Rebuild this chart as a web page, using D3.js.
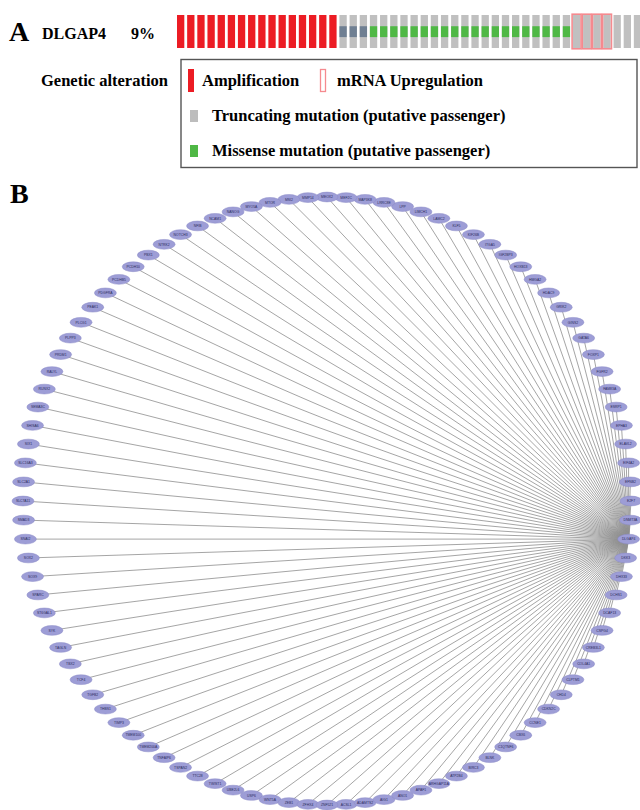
<!DOCTYPE html>
<html>
<head>
<meta charset="utf-8">
<script src="https://cdn.jsdelivr.net/npm/d3@7"></script>
<style>
  html, body { margin: 0; padding: 0; background: #fff; }
  svg { display: block; }
</style>
</head>
<body>
<svg id="fig" width="640" height="810"></svg>
<script>
// ---- Panel A: oncoprint row for DLGAP4 ----
const geneName = "DLGAP4";
const alteredPct = "9%";
// one entry per sample column, in display order
const sampleAlterations = [
  "amp","amp","amp","amp","amp","amp","amp","amp","amp","amp","amp","amp","amp","amp","amp","amp",
  "trunc","trunc","trunc",
  "missense","missense","missense","missense","missense","missense","missense","missense","missense","missense",
  "missense","missense","missense","missense","missense","missense","missense","missense","missense","missense",
  "mrna","mrna","mrna","mrna",
  "none","none","none"
];
const legendItems = [
  { key: "amp", label: "Amplification" },
  { key: "mrna", label: "mRNA Upregulation" },
  { key: "trunc", label: "Truncating mutation (putative passenger)" },
  { key: "missense", label: "Missense mutation (putative passenger)" }
];

// ---- Panel B: co-expression network around the hub gene ----
const hubGene = "DLGAP4";
const networkGenes = [
  "ACSL1","ADAMTS2","AIG1","ANO1","APAF1","ARHGAP11A","ATP2B4","BIRC3","BLNK","C1QTNF6",
  "CBX6","CCNE1","CDKN2C","CHD4","CLPTM1","COL4A1","CREB3L1","CSPG4","DCAF13","DCHS1",
  "DHX33","DKK3","DLGAP4","DNMT3A","E2F7","EFNB2","EIF4A2","ELAVL2","EPHA3","ESRP1",
  "FAM83A","FGFR2","FOXP1","GATA6","GINS2","GRIK2","HDAC9","HMGA2","HOXB13","IGF2BP3",
  "ITGA5","KIF26B","KLF5","LAMC2","LIMCH1","LPP","LRRC8E","MAP3K8","MEF2C","MEOX2",
  "MMP14","MSI2","MTOR","MYO5A","NANOG","NCAM1","NFIB","NOTCH3","NTRK2","PBX1",
  "PCDH10","PCDHB5","PDGFRA","PEAK1","PLCG1","PLPP3","PRDM1","RALYL","RUNX2","SEMA3C",
  "SHISA6","SIX1","SLC16A3","SLC2A1","SLC7A11","SMAD3","SNAI2","SOX2","SOX9","SPARC",
  "ST6GAL1","SYK","TAGLN","TBX2","TCF4","TGFB2","THBS1","TIMP3","TMEM100","TMEM200A",
  "TNFAIP6","TSPAN2","TTC28","TWIST1","UBE2L6","USP6","WNT5A","ZEB1","ZFHX4","ZNF521"
];

const svg = d3.select("#fig");
svg.append("rect").attr("width", 640).attr("height", 810).attr("fill", "#fff");

const serif = "'Liberation Serif', 'Times New Roman', serif";
const colors = {
  amp: "#ec1c24",
  none: "#c0c0c0",
  missense: "#4fb845",
  trunc: "#6f7f92",
  mrnaStroke: "#f58a8f",
  legendTrunc: "#bdbdbd"
};

// panel letters
svg.append("text").attr("x", 9).attr("y", 41)
  .attr("font-family", serif).attr("font-weight", "bold").attr("font-size", 28)
  .text("A");
svg.append("text").attr("x", 10).attr("y", 203)
  .attr("font-family", serif).attr("font-weight", "bold").attr("font-size", 28)
  .text("B");

// oncoprint track
const gA = svg.append("g");
gA.append("text").attr("x", 42).attr("y", 39)
  .attr("font-family", serif).attr("font-weight", "bold").attr("font-size", 16)
  .text(geneName);
gA.append("text").attr("x", 131).attr("y", 39)
  .attr("font-family", serif).attr("font-weight", "bold").attr("font-size", 16)
  .text(alteredPct);

const samples = sampleAlterations.map((type, i) => ({ type, i }));
const xBand = d3.scaleBand()
  .domain(d3.range(samples.length))
  .range([177, 177 + samples.length * 10.09])
  .paddingInner(0.28).paddingOuter(0);
const yTrack = d3.scaleLinear().domain([0, 1]).range([48, 15]);

const cols = gA.selectAll("g.sample").data(samples).join("g").attr("class", "sample");
// base column
cols.append("rect")
  .attr("x", d => xBand(d.i)).attr("width", xBand.bandwidth())
  .attr("y", yTrack(1)).attr("height", yTrack(0) - yTrack(1))
  .attr("fill", d => d.type === "amp" ? colors.amp : colors.none);
// mutation glyph: a shorter centred bar
cols.filter(d => d.type === "missense" || d.type === "trunc").append("rect")
  .attr("x", d => xBand(d.i)).attr("width", xBand.bandwidth())
  .attr("y", yTrack(0.66)).attr("height", yTrack(0.33) - yTrack(0.66))
  .attr("fill", d => colors[d.type]);
// mRNA upregulation: outlined column
cols.filter(d => d.type === "mrna").append("rect")
  .attr("x", d => xBand(d.i) - 0.8)
  .attr("width", xBand.bandwidth() + 1.6)
  .attr("y", yTrack(1) - 0.8).attr("height", yTrack(0) - yTrack(1) + 1.6)
  .attr("fill", "none").attr("stroke", colors.mrnaStroke).attr("stroke-width", 1.6);

// legend
const gL = svg.append("g");
gL.append("rect").attr("x", 181).attr("y", 59.5).attr("width", 456).attr("height", 108)
  .attr("fill", "none").attr("stroke", "#555").attr("stroke-width", 1.4);
gL.append("text").attr("x", 41).attr("y", 86)
  .attr("font-family", serif).attr("font-weight", "bold").attr("font-size", 16.5)
  .text("Genetic alteration");

const legendPos = [
  { x: 188, y: 86 }, { x: 320, y: 86 }, { x: 190, y: 121 }, { x: 190, y: 156 }
];
legendItems.forEach((item, i) => {
  const p = legendPos[i];
  if (item.key === "amp") {
    gL.append("rect").attr("x", p.x).attr("y", p.y - 17).attr("width", 6).attr("height", 23).attr("fill", colors.amp);
    gL.append("text").attr("x", p.x + 14).attr("y", p.y)
      .attr("font-family", serif).attr("font-weight", "bold").attr("font-size", 16.5).text(item.label);
  } else if (item.key === "mrna") {
    gL.append("rect").attr("x", p.x + 0.5).attr("y", p.y - 16.5).attr("width", 5).attr("height", 22)
      .attr("fill", "none").attr("stroke", colors.mrnaStroke).attr("stroke-width", 1.3);
    gL.append("text").attr("x", p.x + 17).attr("y", p.y)
      .attr("font-family", serif).attr("font-weight", "bold").attr("font-size", 16.5).text(item.label);
  } else {
    gL.append("rect").attr("x", p.x).attr("y", p.y - 11).attr("width", 8).attr("height", 12)
      .attr("fill", item.key === "trunc" ? colors.legendTrunc : colors.missense);
    gL.append("text").attr("x", p.x + 22).attr("y", p.y)
      .attr("font-family", serif).attr("font-weight", "bold").attr("font-size", 16.5).text(item.label);
  }
});

// ---- network in circular layout ----
const cx = 327, cy = 501, radius = 304;
const stepDeg = 360 / networkGenes.length;
const angle = d3.scaleLinear()
  .domain([0, networkGenes.length])
  .range([(180 - stepDeg) * Math.PI / 180, (180 - stepDeg - 360) * Math.PI / 180]);

const nodes = networkGenes.map((name, i) => {
  const [px, py] = d3.pointRadial(angle(i), radius);
  return { name, x: cx + px, y: cy + py };
});
const hub = nodes.find(n => n.name === hubGene);
const links = nodes.filter(n => n !== hub).map(n => ({ source: hub, target: n }));

const gN = svg.append("g");
gN.append("g").selectAll("line").data(links).join("line")
  .attr("x1", d => d.source.x).attr("y1", d => d.source.y)
  .attr("x2", d => d.target.x).attr("y2", d => d.target.y)
  .attr("stroke", "#8f8f8f").attr("stroke-width", 0.9).attr("stroke-opacity", 0.9);

const nodeG = gN.append("g").selectAll("g").data(nodes).join("g")
  .attr("transform", d => `translate(${d.x},${d.y})`);
nodeG.append("ellipse").attr("rx", 11).attr("ry", 4.9)
  .attr("fill", "#9d9dd6").attr("stroke", "#8a8ac6").attr("stroke-width", 0.5);
nodeG.append("text")
  .attr("text-anchor", "middle").attr("dy", 1.2)
  .attr("font-family", "'Liberation Sans', Arial, sans-serif").attr("font-size", 3.4)
  .attr("fill", "#2a2a5a")
  .text(d => d.name);
</script>
</body>
</html>
